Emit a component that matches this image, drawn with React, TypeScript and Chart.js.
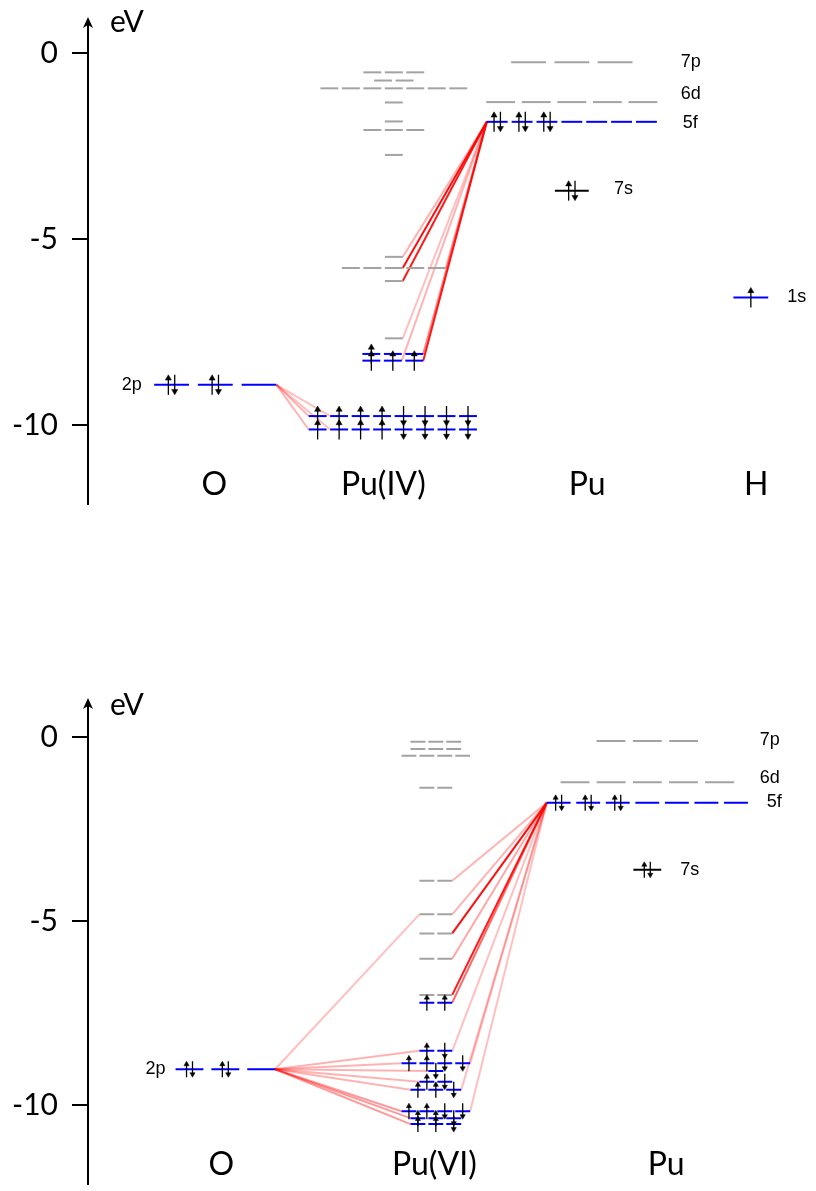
import { useEffect, useRef } from "react";
import { Chart, registerables } from "chart.js";
Chart.register(...registerables);

// Level tuple: [energy (eV), number of degenerate orbitals, electrons per orbital: p=pair, u=up, d=down]
type Lv = [number, number, string];
// Link tuple: [target group "E"(empty)/"F"(filled), level index, orbital index, opacity]
type Link = [string, number, number, number];

// ---------------- top diagram : Pu(IV) ----------------
const TOP_TICKS = [0, -5, -10];
const TOP_NAMES = ["O", "Pu(IV)", "Pu", "H"];
const TOP_O_2P: Lv[] = [[-8.92, 3, "pp-"]];
const TOP_PUIV_EMPTY: Lv[] = [
  [-0.52, 3, ""], [-0.74, 2, ""], [-0.95, 7, ""], [-1.33, 1, ""], [-1.84, 1, ""],
  [-2.07, 3, ""], [-2.74, 1, ""], [-5.48, 1, ""], [-5.78, 5, ""], [-6.13, 1, ""], [-7.67, 1, ""],
];
const TOP_PUIV_FILLED: Lv[] = [
  [-8.09, 3, "u--"], [-8.27, 3, "uuu"], [-9.76, 8, "uuuudddd"], [-10.12, 8, "uuuudddd"],
];
const TOP_PU_ATOM: Lv[] = [[-0.25, 3, ""], [-1.32, 5, ""], [-1.85, 7, "ppp"], [-3.70, 1, "p"]];
const TOP_PU_ORBITALS = ["7p", "6d", "5f", "7s"];
const TOP_H_1S: Lv[] = [[-6.57, 1, "u"]];
const TOP_O_LINKS: Link[] = [
  ["F", 2, 0, 0.3], ["F", 3, 0, 0.3], ["F", 2, 1, 0.25], ["F", 3, 1, 0.25],
];
const TOP_PU_LINKS: Link[] = [
  ["E", 7, 0, 0.3], ["E", 8, 2, 0.95], ["E", 9, 0, 0.9], ["E", 8, 4, 0.3],
  ["E", 10, 0, 0.25], ["F", 0, 2, 0.5], ["F", 1, 2, 0.9], ["F", 1, 1, 0.3],
];

// ---------------- bottom diagram : Pu(VI) ----------------
const BOT_TICKS = [0, -5, -10];
const BOT_NAMES = ["O", "Pu(VI)", "Pu"];
const BOT_O_2P: Lv[] = [[-9.02, 3, "pp-"]];
const BOT_PUVI_EMPTY: Lv[] = [
  [-0.12, 3, ""], [-0.32, 3, ""], [-0.50, 4, ""], [-1.37, 2, ""], [-3.90, 2, ""],
  [-4.81, 2, ""], [-5.33, 2, ""], [-6.02, 2, ""], [-7.00, 2, ""],
];
const BOT_PUVI_FILLED: Lv[] = [
  [-7.21, 2, "uu"], [-8.52, 2, "ud"], [-8.86, 4, "uudd"], [-9.07, 1, "d"], [-9.36, 2, "ud"],
  [-9.58, 3, "uud"], [-10.16, 4, "uudd"], [-10.35, 3, "uud"], [-10.51, 3, "uud"],
];
const BOT_PU_ATOM: Lv[] = [[-0.10, 3, ""], [-1.22, 5, ""], [-1.78, 7, "ppp"], [-3.60, 1, "p"]];
const BOT_PU_ORBITALS = ["7p", "6d", "5f", "7s"];
const BOT_O_LINKS: Link[] = [
  ["E", 5, 0, 0.25], ["F", 1, 0, 0.3], ["F", 2, 0, 0.3], ["F", 3, 0, 0.3], ["F", 4, 0, 0.3],
  ["F", 5, 0, 0.3], ["F", 6, 0, 0.4], ["F", 7, 0, 0.4], ["F", 8, 0, 0.4],
];
const BOT_PU_LINKS: Link[] = [
  ["E", 4, 1, 0.3], ["E", 5, 1, 0.3], ["E", 6, 1, 0.95], ["E", 7, 1, 0.35], ["E", 8, 1, 0.9],
  ["F", 0, 1, 0.6], ["F", 1, 1, 0.25], ["F", 2, 3, 0.25], ["F", 5, 2, 0.25], ["F", 6, 3, 0.25],
];

// ---------------- layout / style ----------------
const GRAY = "#a3a3a3";
const BLUE = "#0000ff";
const BLACK = "#000000";
const NUM_FONT = "Lato";
const ORB_FONT = "'Liberation Sans', Arial, sans-serif";

type Group = { levels: Lv[]; cx: number; w: number | number[]; pitch: number | number[]; color: string | string[] };

const pick = (v: any, i: number) => (Array.isArray(v) ? v[i] : v);

function orbitals(g: Group, li: number) {
  const [, n] = g.levels[li];
  const w = pick(g.w, li);
  const p = pick(g.pitch, li);
  const out: { a: number; b: number; c: number }[] = [];
  for (let i = 0; i < n; i++) {
    const c = g.cx + (i - (n - 1) / 2) * p;
    out.push({ a: c - w / 2, b: c + w / 2, c });
  }
  return out;
}

const TOP_SPEC = {
  top: 0, height: 595, zero: 53, ppe: 37.2, padTop: 34, padBottom: 60,
  axisTip: 17, axisEnd: 505, evY: 22, ticks: TOP_TICKS,
  arrowHalf: 10, head: 3.5, pairGap: 3.2, linkWidth: 2,
  groups: {
    O: { levels: TOP_O_2P, cx: 216, w: 35, pitch: 44, color: BLUE } as Group,
    E: { levels: TOP_PUIV_EMPTY, cx: 395.5, w: 18, pitch: 21.6, color: GRAY } as Group,
    F: { levels: TOP_PUIV_FILLED, cx: 394.5, w: 18, pitch: 21.6, color: BLUE } as Group,
    P: { levels: TOP_PU_ATOM, cx: 574.5, w: [35, 29, 21, 34], pitch: [43.5, 35.75, 25, 0], color: [GRAY, GRAY, BLUE, BLACK] } as Group,
    H: { levels: TOP_H_1S, cx: 754.5, w: 35, pitch: 0, color: BLUE } as Group,
  } as Record<string, Group>,
  oLinks: TOP_O_LINKS, puLinks: TOP_PU_LINKS, puSource: 2,
  names: TOP_NAMES, nameX: [215, 385, 590, 760], nameE: -11.61,
  orbLabels: [
    ...TOP_PU_ORBITALS.map((t, i) => ({ t, x: [684, 684, 686, 617][i], e: [-0.24, -1.1, -1.87, -3.66][i] })),
    { t: "1s", x: 791, e: -6.57 },
  ],
  twoP: { x: 142, e: -8.92 },
};

const BOT_SPEC = {
  top: 595, height: 596, zero: 142.3, ppe: 36.8, padTop: 34, padBottom: 34,
  axisTip: 103, axisEnd: 590, evY: 110, ticks: BOT_TICKS,
  arrowHalf: 8, head: 3, pairGap: 3, linkWidth: 2,
  groups: {
    O: { levels: BOT_O_2P, cx: 226, w: 28, pitch: 36, color: BLUE } as Group,
    E: { levels: BOT_PUVI_EMPTY, cx: 437.5, w: 15, pitch: 18, color: GRAY } as Group,
    F: { levels: BOT_PUVI_FILLED, cx: 437.5, w: 15, pitch: 18, color: BLUE } as Group,
    P: { levels: BOT_PU_ATOM, cx: 650, w: [29, 29, 24, 28], pitch: [36.5, 36.3, 29.7, 0], color: [GRAY, GRAY, BLUE, BLACK] } as Group,
  } as Record<string, Group>,
  oLinks: BOT_O_LINKS, puLinks: BOT_PU_LINKS, puSource: 2,
  names: BOT_NAMES, nameX: [222, 436, 669], nameE: -11.62,
  orbLabels: BOT_PU_ORBITALS.map((t, i) => ({ t, x: [763, 763, 770, 683][i], e: [-0.07, -1.11, -1.76, -3.6][i] })),
  twoP: { x: 166, e: -9.02 },
};

type Spec = typeof TOP_SPEC;

function buildDatasets(s: Spec) {
  const ds: any[] = [];
  const h = s.arrowHalf / s.ppe;
  const rr = s.head / s.ppe;
  const arrow = (x: number, e: number, up: boolean) => {
    const tail = up ? e - h : e + h;
    const headC = up ? e + h - rr : e - h + rr;
    ds.push({
      data: [{ x, y: tail }, { x, y: headC }], showLine: true, borderColor: BLACK, borderWidth: 1.3,
      pointRadius: [0, s.head], pointHoverRadius: 0, pointStyle: "triangle", pointRotation: up ? 0 : 180,
      pointBackgroundColor: BLACK, pointBorderColor: BLACK, pointBorderWidth: 0.5, order: 0,
    });
  };
  for (const key of Object.keys(s.groups)) {
    const g = s.groups[key];
    g.levels.forEach((lv, li) => {
      const orbs = orbitals(g, li);
      orbs.forEach((o, i) => {
        ds.push({
          data: [{ x: o.a, y: lv[0] }, { x: o.b, y: lv[0] }], showLine: true, borderColor: pick(g.color, li),
          borderWidth: 2, pointRadius: 0, pointHoverRadius: 0, order: 1,
        });
        const occ = lv[2][i];
        if (occ === "p") { arrow(o.c - s.pairGap, lv[0], true); arrow(o.c + s.pairGap, lv[0], false); }
        else if (occ === "u") arrow(o.c, lv[0], true);
        else if (occ === "d") arrow(o.c, lv[0], false);
      });
    });
  }
  // correlation lines
  const O = s.groups.O;
  const oOrbs = orbitals(O, 0);
  const oSrc = { x: oOrbs[oOrbs.length - 1].b, y: O.levels[0][0] };
  for (const [grp, li, oi, a] of s.oLinks) {
    const g = s.groups[grp];
    const o = orbitals(g, li)[oi];
    ds.push({
      data: [oSrc, { x: o.a, y: g.levels[li][0] }], showLine: true, borderColor: `rgba(255,0,0,${a})`,
      borderWidth: s.linkWidth, pointRadius: 0, pointHoverRadius: 0, order: 2,
    });
  }
  const P = s.groups.P;
  const pSrc = { x: orbitals(P, s.puSource)[0].a, y: P.levels[s.puSource][0] };
  for (const [grp, li, oi, a] of s.puLinks) {
    const g = s.groups[grp];
    const o = orbitals(g, li)[oi];
    ds.push({
      data: [pSrc, { x: o.b, y: g.levels[li][0] }], showLine: true, borderColor: `rgba(255,0,0,${a})`,
      borderWidth: s.linkWidth, pointRadius: 0, pointHoverRadius: 0, order: 2,
    });
  }
  return ds;
}

function makeDecor(s: Spec) {
  return {
    id: "decor",
    afterDraw(chart: any) {
      const { ctx, chartArea, scales } = chart;
      const x = scales.x, y = scales.y;
      const ax = chartArea.left;
      ctx.save();
      ctx.strokeStyle = BLACK; ctx.fillStyle = BLACK; ctx.lineWidth = 2;
      ctx.beginPath(); ctx.moveTo(ax, s.axisTip + 4); ctx.lineTo(ax, s.axisEnd); ctx.stroke();
      ctx.beginPath(); ctx.moveTo(ax, s.axisTip); ctx.lineTo(ax - 5, s.axisTip + 11); ctx.lineTo(ax, s.axisTip + 8);
      ctx.lineTo(ax + 5, s.axisTip + 11); ctx.closePath(); ctx.fill();
      ctx.textBaseline = "middle";
      ctx.font = `30px ${NUM_FONT}`; ctx.textAlign = "left";
      ctx.fillText("eV", 110, s.evY);
      ctx.font = `32px ${NUM_FONT}`; ctx.textAlign = "center";
      s.names.forEach((t: string, i: number) => ctx.fillText(t, x.getPixelForValue(s.nameX[i]), y.getPixelForValue(s.nameE)));
      ctx.font = `18px ${ORB_FONT}`; ctx.textAlign = "left";
      s.orbLabels.forEach((l: any) => ctx.fillText(l.t, x.getPixelForValue(l.x), y.getPixelForValue(l.e)));
      ctx.textAlign = "right";
      ctx.fillText("2p", x.getPixelForValue(s.twoP.x), y.getPixelForValue(s.twoP.e));
      ctx.restore();
    },
  };
}

function Diagram({ spec }: { spec: Spec }) {
  const ref = useRef<HTMLCanvasElement>(null);
  useEffect(() => {
    const s = spec;
    const yMax = (s.zero - s.padTop) / s.ppe;
    const yMin = -((s.height - s.padBottom) - s.zero) / s.ppe;
    const chart = new Chart(ref.current!, {
      type: "scatter",
      data: { datasets: buildDatasets(s) },
      options: {
        responsive: false,
        animation: false,
        events: [],
        layout: { padding: { left: 0, right: 0, top: s.padTop, bottom: s.padBottom } },
        plugins: { legend: { display: false }, tooltip: { enabled: false } },
        scales: {
          x: { type: "linear", display: false, min: 88, max: 816 },
          y: {
            type: "linear", min: yMin, max: yMax, position: "left",
            afterFit: (sc: any) => { sc.width = 88; },
            afterBuildTicks: (sc: any) => { sc.ticks = s.ticks.map((v: number) => ({ value: v })); },
            grid: { display: true, drawOnChartArea: false, drawTicks: true, tickLength: 16, lineWidth: 2, color: BLACK },
            border: { display: false },
            ticks: { color: BLACK, padding: 14, font: { family: NUM_FONT, size: 30, lineHeight: 1 }, callback: (v: any) => String(v) },
          },
        },
      } as any,
      plugins: [makeDecor(s)],
    });
    return () => chart.destroy();
  }, [spec]);
  return (
    <canvas ref={ref} width={816} height={spec.height}
      style={{ position: "absolute", left: 0, top: spec.top, width: 816, height: spec.height }} />
  );
}

export default function App() {
  return (
    <div style={{ position: "absolute", left: 0, top: 0, width: 816, height: 1191, background: "#fff" }}>
      <Diagram spec={TOP_SPEC} />
      <Diagram spec={BOT_SPEC as Spec} />
    </div>
  );
}
